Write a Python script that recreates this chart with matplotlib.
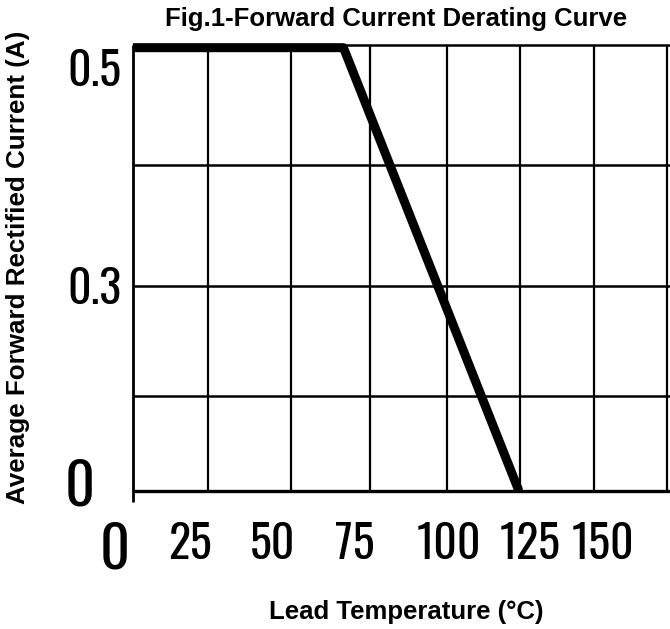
import matplotlib
matplotlib.use("Agg")
import matplotlib.pyplot as plt

# Derating curve (lead temperature in degC, current in A)
temp = [0, 69, 126.5]
current = [0.497, 0.497, 0]

# grid lines as they sit in the (scanned) original
x_grid = [0, 24.6, 51.8, 77.7, 102.9, 126.8, 151.1, 175]
y_grid = [0, 0.107, 0.23, 0.365, 0.5]

# tick labels and where they sit
x_tick_pos = [-5.9, 18.7, 45.9, 72.8, 103.6, 130.2, 154.1]
x_tick_lbl = ['0', '25', '50', '75', '100', '125', '150']
y_tick_pos = [0.01, 0.23, 0.475]
y_tick_lbl = ['0', '0.3', '0.5']

W, H = 670, 629
fig = plt.figure(figsize=(W / 100, H / 100), dpi=100)

# axes box in pixels: left 110, right 670, top 40, bottom 505
ax = fig.add_axes([110 / W, (H - 505) / H, 560 / W, 465 / H])
ax.set_xlim(-7.5, 176)
ax.set_ylim(-0.0157, 0.5056)
for s in ax.spines.values():
    s.set_visible(False)

ax.vlines(x_grid[1:], 0, 0.5, color='black', lw=1.6)
ax.vlines(x_grid[0], -0.012, 0.5, color='black', lw=2)
ax.hlines(y_grid[1:], 0, 176, color='black', lw=1.8)
ax.hlines(y_grid[0], 0, 176, color='black', lw=2.4)

ax.plot(temp, current, color='black', lw=6.5, solid_capstyle='butt')

# narrow digits like the scanned datasheet
num_font = ['Oswald', 'Roboto Condensed', 'DejaVu Sans']
ax.set_xticks(x_tick_pos)
ax.set_xticklabels(x_tick_lbl, family=num_font, fontsize=33)
ax.set_yticks(y_tick_pos)
ax.set_yticklabels(y_tick_lbl, family=num_font, fontsize=33, ha='center')
ax.tick_params(axis='x', length=0, pad=12)
ax.tick_params(axis='y', length=0, pad=11)
ax.get_xticklabels()[0].set_fontsize(42)
ax.get_yticklabels()[0].set_fontsize(42)
ax.get_yticklabels()[0].set_ha('right')

lbl_font = ['Liberation Sans', 'DejaVu Sans']
fig.text(396 / W, 1 - 19 / H, 'Fig.1-Forward Current Derating Curve',
         ha='center', va='center', fontsize=18.5, fontweight='bold', family=lbl_font)
fig.text(406 / W, 1 - 612 / H, 'Lead Temperature (°C)',
         ha='center', va='center', fontsize=18.5, fontweight='bold', family=lbl_font)
fig.text(18 / W, 1 - 267 / H, 'Average Forward Rectified Current (A)',
         ha='center', va='center', rotation=90, fontsize=18.7, fontweight='bold',
         family=lbl_font)

fig.savefig('out.png', dpi=100)
